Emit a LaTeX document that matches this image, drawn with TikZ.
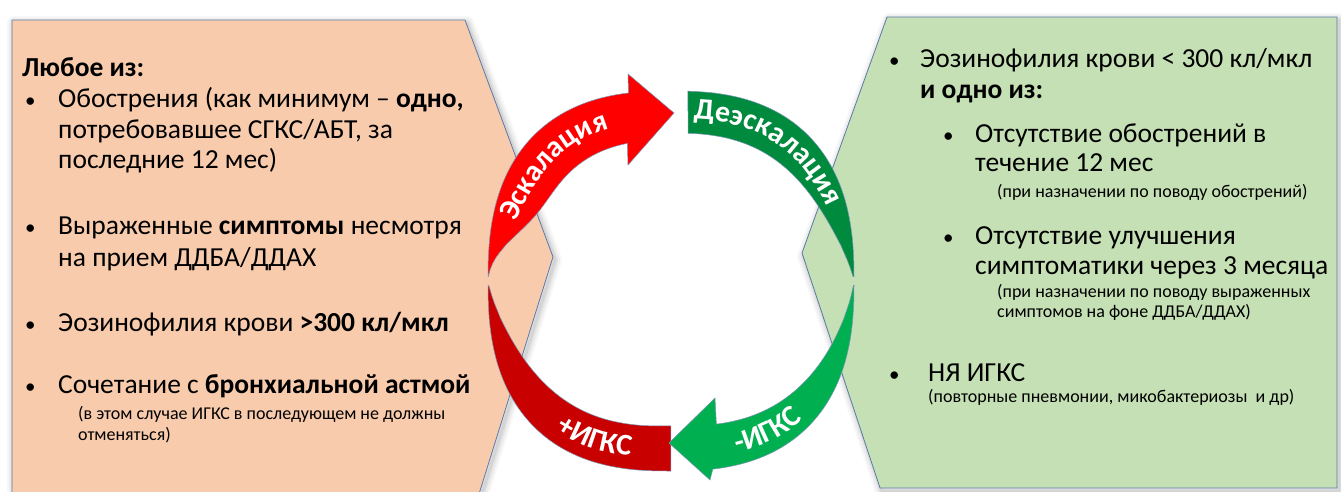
\documentclass[tikz,border=0pt]{standalone}
\usepackage{fontspec}
\setmainfont{Carlito}
\usetikzlibrary{decorations.text}
\definecolor{peach}{HTML}{F8CBAD}
\definecolor{lgreen}{HTML}{C5E0B4}
\definecolor{edge}{HTML}{5A79A8}
\definecolor{redA}{HTML}{FF0000}
\definecolor{redB}{HTML}{C80000}
\definecolor{grnA}{HTML}{008A3E}
\definecolor{grnB}{HTML}{00B050}
\begin{document}
\begin{tikzpicture}[x=1pt,y=-1pt,
  declare function={
    ex(\t)=pow(abs(cos(\t))+0.0001,0.8);
    ey(\t)=pow(abs(sin(\t))+0.0001,0.8);
    tbr(\t)=48*(1-exp(-pow((\t-180)/14,1.5)));
    tdr(\t)=46*(1-exp(-(180-\t)/28));
    tdg(\t)=42*(1-exp(-(360-\t)/22));
    tbg(\t)=50*(1-exp(-\t/40));
  },
  panel/.style={draw=edge,line width=0.8pt},
  arr/.style={draw=edge!80,line width=0.5pt},
  txt/.style={anchor=base west,inner sep=0pt,font=\fontsize{27.5}{33}\selectfont},
  bul/.style={anchor=base west,inner sep=0pt,font=\fontsize{21}{25}\selectfont},
  sm/.style={anchor=base west,inner sep=0pt,font=\fontsize{18}{21}\selectfont},
  lbl/.style={decorate,decoration={text along path,text align=center,
      text color=white,text={#1}}}
]
\useasboundingbox (0,0) rectangle (1341,491);
\clip (0,0) rectangle (1341,491);
\def\leftpanel{(12,20) -- (465,20) -- (553,257) -- (474,510) -- (12,510) -- cycle}
\def\rightpanel{(887,17) -- (1337,17) -- (1337,488) -- (880,488) -- (802,253) -- cycle}
% shadows
\foreach \w/\o in {14/0.03,10/0.04,6/0.05,3/0.06}{
  \draw[black,opacity=\o,line width=\w pt,line join=round,shift={(2,3)}] \leftpanel;
  \draw[black,opacity=\o,line width=\w pt,line join=round,shift={(2,3)}] \rightpanel;
}
\fill[peach] \leftpanel;
\draw[panel] \leftpanel;
\fill[lgreen] \rightpanel;
\draw[panel] \rightpanel;

% ---- ring arrows ----
% dark red (+IGKS)
\draw[arr,fill=redB]
  plot[domain=179.5:90,samples=50] ({671-183*ex(\x)},{281+190*ey(\x)})
  -- plot[domain=90:179.5,samples=50] ({671-183*ex(\x)*(1-tdr(\x)/186)},{281+190*ey(\x)*(1-tdr(\x)/186)})
  -- cycle;
% bright red (escalation)
\draw[arr,fill=redA]
  plot[domain=180.5:260.8,samples=50] ({671-183*ex(\x)},{281-190*ey(\x)})
  -- (628,74) -- (674,113) -- (628,165)
  -- plot[domain=256:180.5,samples=60] ({671-183*ex(\x)*(1-tbr(\x)/186)},{281-190*ey(\x)*(1-tbr(\x)/186)})
  -- cycle;
% dark green (de-escalation)
\draw[arr,fill=grnA]
  plot[domain=272.9:359.5,samples=50] ({671+183*ex(\x)},{281-190*ey(\x)})
  -- plot[domain=359.5:274,samples=50] ({671+183*ex(\x)*(1-tdg(\x)/186)},{281-190*ey(\x)*(1-tdg(\x)/186)})
  -- cycle;
% bright green (-IGKS)
\draw[arr,fill=grnB]
  plot[domain=0.5:81,samples=50] ({671+183*ex(\x)},{281+190*ey(\x)})
  -- (710,480) -- (669,443) -- (715,398)
  -- plot[domain=76:0.5,samples=50] ({671+183*ex(\x)*(1-tbg(\x)/186)},{281+190*ey(\x)*(1-tbg(\x)/186)})
  -- cycle;

% labels along arrows
\path[lbl={|\bfseries\fontsize{30}{30}\selectfont|Эскалация}]
  plot[domain=190:258,samples=40] ({671-183*ex(\x)*(1-(tbr(\x)/2+6)/186)},{281-190*ey(\x)*(1-(tbr(\x)/2+6)/186)});
\path[lbl={|\bfseries\fontsize{30}{30}\selectfont|Деэскалация}]
  plot[domain=271:345,samples=40] ({671+183*ex(\x)*(1-(tdg(\x)/2+6)/186)},{281-190*ey(\x)*(1-(tdg(\x)/2+6)/186)});
\path[lbl={|\bfseries\fontsize{30}{30}\selectfont|+ИГКС}]
  plot[domain=138:92,samples=40] ({671-183*ex(\x)*(1-(tdr(\x)/2-9)/186)},{281+190*ey(\x)*(1-(tdr(\x)/2-9)/186)});
\path[lbl={|\bfseries\fontsize{30}{30}\selectfont|-ИГКС}]
  plot[domain=82:34,samples=40] ({671+183*ex(\x)*(1-(tbg(\x)/2-9)/186)},{281+190*ey(\x)*(1-(tbg(\x)/2-9)/186)});

% ---- left text ----
\node[txt,font=\fontsize{27.5}{33}\selectfont\bfseries] (lh) at (22,76) {Любое из:};
\node[bul] (lb1) at (25,107) {•};
\node[txt] (l1a) at (58,107) {Обострения (как минимум – \textbf{одно,}};
\node[txt] (l1b) at (58,138) {потребовавшее СГКС/АБТ, за};
\node[txt] (l1c) at (58,168) {последние 12 мес)};
\node[bul] (lb2) at (25,234) {•};
\node[txt] (l2a) at (58,234) {Выраженные \textbf{симптомы} несмотря};
\node[txt] (l2b) at (58,266) {на прием ДДБА/ДДАХ};
\node[bul] (lb3) at (25,331) {•};
\node[txt] (l3a) at (58,331) {Эозинофилия крови \textbf{>300 кл/мкл}};
\node[bul] (lb4) at (25,393) {•};
\node[txt] (l4a) at (58,393) {Сочетание с \textbf{бронхиальной астмой}};
\node[sm] (l4b) at (78,419) {(в этом случае ИГКС в последующем не должны};
\node[sm] (l4c) at (78,440) {отменяться)};

% ---- right text ----
\node[bul] (rb1) at (889,67) {•};
\node[txt] (r1a) at (920,67) {Эозинофилия крови < 300 кл/мкл};
\node[txt] (r1b) at (920,98) {\textbf{и одно из:}};
\node[bul] (rb2) at (943,142) {•};
\node[txt] (r2a) at (975,142) {Отсутствие обострений в};
\node[txt] (r2b) at (975,171) {течение 12 мес};
\node[sm] (r2c) at (997,197) {(при назначении по поводу обострений)};
\node[bul] (rb3) at (943,244) {•};
\node[txt] (r3a) at (975,244) {Отсутствие улучшения};
\node[txt] (r3b) at (975,274) {симптоматики через 3 месяца};
\node[sm] (r3c) at (997,297) {(при назначении по поводу выраженных};
\node[sm] (r3d) at (997,317) {симптомов на фоне ДДБА/ДДАХ)};
\node[bul] (rb4) at (889,381) {•};
\node[txt] (r4a) at (928,381) {НЯ ИГКС};
\node[sm] (r4b) at (928,402) {(повторные пневмонии, микобактериозы\ \ и др)};
\end{tikzpicture}
\end{document}
